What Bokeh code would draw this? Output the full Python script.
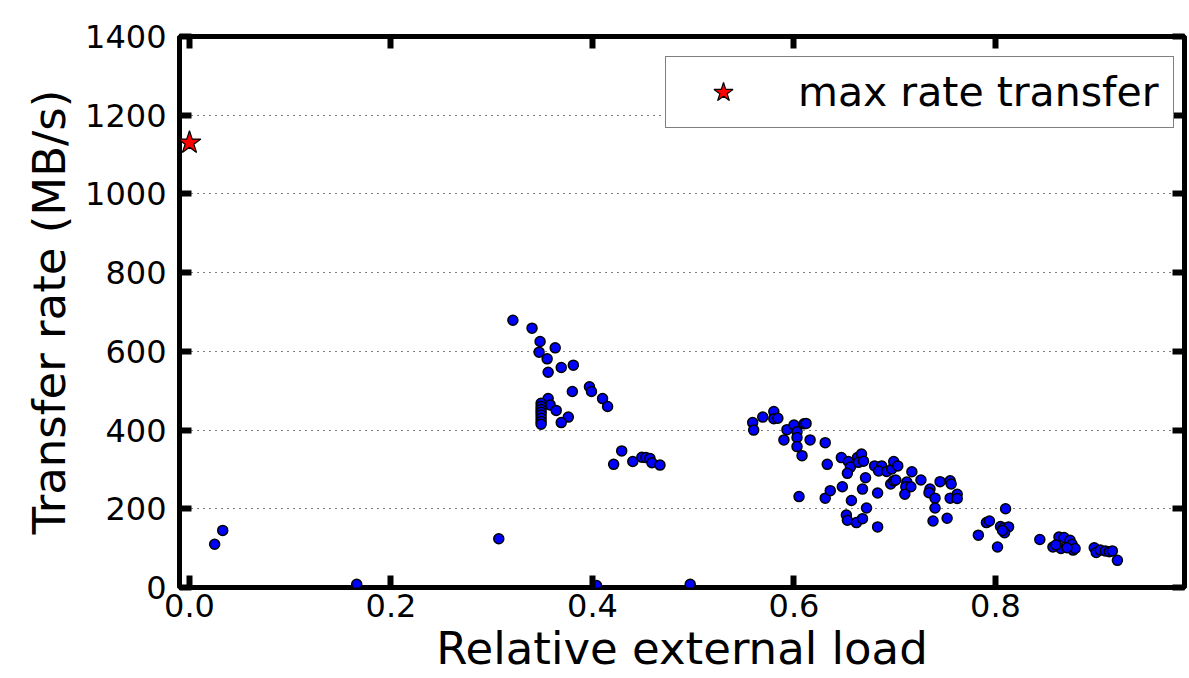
from bokeh.plotting import figure
from bokeh.models import LinearAxis, FixedTicker, NumeralTickFormatter, Range1d, Legend, LegendItem
from bokeh.embed import file_html
from bokeh.resources import INLINE

# ---- data ----
load_x = [0.025, 0.033, 0.166, 0.307, 0.404, 0.497,
          0.321, 0.340, 0.348, 0.347, 0.363, 0.355, 0.356, 0.369, 0.381, 0.380,
          0.397, 0.399, 0.410, 0.415, 0.356, 0.358, 0.364, 0.376, 0.369,
          0.349, 0.349, 0.349, 0.349, 0.349, 0.349, 0.349, 0.349,
          0.429, 0.421, 0.440, 0.449, 0.453, 0.457, 0.459, 0.467,
          0.559, 0.560, 0.569, 0.580, 0.580, 0.584, 0.593, 0.600, 0.603, 0.603,
          0.590, 0.603, 0.610, 0.612, 0.608, 0.616, 0.631, 0.633, 0.605, 0.631,
          0.636, 0.647, 0.654, 0.656, 0.653, 0.648, 0.657, 0.663, 0.667, 0.664,
          0.669, 0.671, 0.668, 0.672, 0.652, 0.653, 0.662, 0.668, 0.680, 0.683, 0.683,
          0.687, 0.684, 0.692, 0.697, 0.699, 0.703, 0.696, 0.699, 0.701, 0.712,
          0.711, 0.716, 0.710, 0.717, 0.726, 0.735, 0.734, 0.740, 0.740, 0.738,
          0.745, 0.752, 0.755, 0.756, 0.755, 0.762, 0.762, 0.783, 0.791,
          0.810, 0.794, 0.802, 0.805, 0.808, 0.813, 0.809, 0.807,
          0.844, 0.857, 0.863, 0.868, 0.865, 0.860, 0.874, 0.876, 0.877, 0.879, 0.871,
          0.898, 0.900, 0.904, 0.909, 0.913, 0.916, 0.921]
rate_y = [110, 145, 8, 124, 5, 8,
          679, 659, 625, 598, 609, 581, 547, 559, 565, 498,
          510, 498, 480, 460, 480, 464, 450, 433, 419,
          468, 460, 452, 445, 438, 430, 422, 415,
          347, 313, 320, 331, 330, 328, 317, 311,
          419, 400, 433, 447, 429, 430, 401, 413, 396, 381,
          375, 358, 416, 417, 335, 375, 368, 313, 231, 227,
          246, 330, 320, 306, 290, 256, 221, 330, 339, 318,
          321, 279, 250, 202, 184, 171, 165, 175, 309, 154, 240,
          309, 296, 295, 301, 320, 309, 263, 271, 273, 268,
          256, 256, 237, 294, 273, 250, 241, 227, 202, 169,
          269, 176, 271, 263, 227, 237, 226, 133, 165,
          200, 169, 103, 155, 151, 154, 139, 145,
          122, 103, 128, 127, 99, 108, 120, 110, 95, 99, 101,
          101, 89, 95, 93, 91, 93, 69]
max_x = [0.0]
max_y = [1130]
x_ticks = [0.0, 0.2, 0.4, 0.6, 0.8]
y_ticks = [0, 200, 400, 600, 800, 1000, 1200, 1400]

FONT = "DejaVu Sans"

p = figure(width=1189, height=678, output_backend="svg", toolbar_location=None,
           x_range=Range1d(-0.0099, 0.9876), y_range=Range1d(0, 1400),
           min_border_left=179, min_border_right=5, min_border_top=36, min_border_bottom=91,
           background_fill_color="white", border_fill_color="white")

p.outline_line_color = "black"
p.outline_line_width = 5

p.xgrid.visible = False
p.ygrid.ticker = FixedTicker(ticks=y_ticks)
p.ygrid.grid_line_color = "black"
p.ygrid.grid_line_alpha = 1.0
p.ygrid.grid_line_dash = "1 5"
p.ygrid.grid_line_width = 1

def style_axis(ax, ticks, show_labels):
    ax.ticker = FixedTicker(ticks=ticks)
    ax.axis_line_color = None
    ax.major_tick_in = 12
    ax.major_tick_out = 0
    ax.major_tick_line_width = 6
    ax.major_tick_line_color = "black"
    ax.minor_tick_line_color = None
    if show_labels:
        ax.major_label_text_font = FONT
        ax.major_label_text_font_size = "32px"
        ax.major_label_text_color = "black"
    else:
        ax.major_label_text_font_size = "1px"
        ax.major_label_text_color = None
        ax.major_label_standoff = 0

xa = p.xaxis[0]
style_axis(xa, x_ticks, True)
xa.formatter = NumeralTickFormatter(format="0.0")
xa.major_label_standoff = 6
xa.axis_label = "Relative external load"
xa.axis_label_text_font = FONT
xa.axis_label_text_font_size = "45px"
xa.axis_label_text_font_style = "normal"
xa.axis_label_text_color = "black"
xa.axis_label_standoff = 2

ya = p.yaxis[0]
style_axis(ya, y_ticks, True)
ya.formatter = NumeralTickFormatter(format="0")
ya.major_label_standoff = 13
ya.axis_label = "Transfer rate (MB/s)"
ya.axis_label_text_font = FONT
ya.axis_label_text_font_size = "45px"
ya.axis_label_text_font_style = "normal"
ya.axis_label_text_color = "black"
ya.axis_label_standoff = 6

top_ax = LinearAxis()
style_axis(top_ax, x_ticks, False)
p.add_layout(top_ax, "above")
right_ax = LinearAxis()
style_axis(right_ax, y_ticks, False)
p.add_layout(right_ax, "right")

p.scatter(load_x, rate_y, marker="circle", size=10, fill_color="#0000ff",
          line_color="black", line_width=1.5)
star = p.scatter(max_x, max_y, marker="star", size=24, fill_color="#ff0000",
                 line_color="black", line_width=1.2)

legend = Legend(items=[LegendItem(label="max rate transfer", renderers=[star])],
                location=(486, 459))
legend.label_text_font = FONT
legend.label_text_font_size = "41px"
legend.label_text_color = "black"
legend.padding = 10
legend.glyph_width = 94
legend.glyph_height = 50
legend.label_standoff = 28
legend.label_width = 365
legend.border_line_color = "black"
legend.border_line_width = 1.5
legend.background_fill_color = "white"
legend.background_fill_alpha = 1.0
legend.margin = 0
p.add_layout(legend, "center")

open("out.html", "w").write(file_html(p, INLINE))
